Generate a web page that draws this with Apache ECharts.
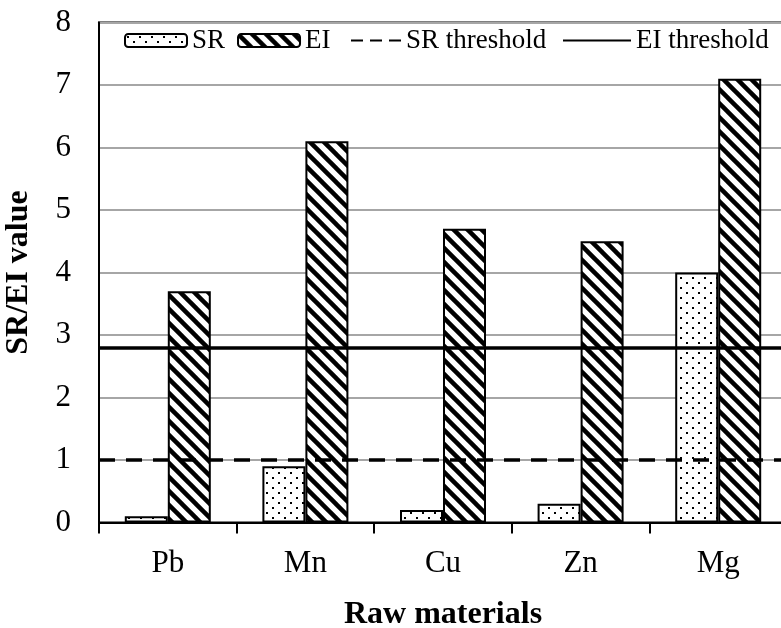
<!DOCTYPE html>
<html>
<head>
<meta charset="utf-8">
<script src="https://cdn.jsdelivr.net/npm/echarts@6/dist/echarts.min.js"></script>
<style>
html,body{margin:0;padding:0;background:#fff;}
#chart{width:781px;height:628px;}
</style>
</head>
<body>
<div id="chart"></div>
<script>
const categories = ['Pb', 'Mn', 'Cu', 'Zn', 'Mg'];
const srValues = [0.1, 0.9, 0.2, 0.3, 4.0];
const eiValues = [3.7, 6.1, 4.7, 4.5, 7.1];
const srThreshold = [1];
const eiThreshold = [2.8];
const yTicks = [0, 1, 2, 3, 4, 5, 6, 7, 8];

function hatchPattern() {
  const s = 14;
  const c = document.createElement('canvas');
  c.width = s; c.height = s;
  const g = c.getContext('2d');
  g.fillStyle = '#fff'; g.fillRect(0, 0, s, s);
  g.strokeStyle = '#000'; g.lineWidth = 4.5;
  for (let k = -1; k <= 1; k++) {
    g.beginPath();
    g.moveTo(k * s - 2, -2);
    g.lineTo(k * s + s + 2, s + 2);
    g.stroke();
  }
  return { image: c, repeat: 'repeat' };
}
function dotPattern() {
  const w = 12, h = 10;
  const c = document.createElement('canvas');
  c.width = w; c.height = h;
  const g = c.getContext('2d');
  g.fillStyle = '#fff'; g.fillRect(0, 0, w, h);
  g.fillStyle = '#000';
  g.fillRect(2, 2, 2, 2);
  g.fillRect(8, 7, 2, 2);
  return { image: c, repeat: 'repeat' };
}

const FONT = 'Liberation Serif';
const chart = echarts.init(document.getElementById('chart'), null, { renderer: 'canvas' });
const legendText = { fontFamily: FONT, fontSize: 27, color: '#000' };

chart.setOption({
  animation: false,
  backgroundColor: '#fff',
  grid: {
    left: 99, top: 22.5, width: 688, height: 500,
    outerBoundsMode: 'none', containLabel: false,
    show: true, borderColor: '#000', borderWidth: 2, backgroundColor: 'transparent'
  },
  legend: [
    { data: ['SR', 'EI'], left: 124, top: 27, itemWidth: 62, itemHeight: 13, itemGap: 12,
      textStyle: legendText, padding: 0 },
    { data: [{ name: 'SR threshold', itemStyle: { opacity: 0 } }], left: 350, top: 27,
      itemWidth: 50, itemHeight: 13, textStyle: legendText, padding: 0 },
    { data: [{ name: 'EI threshold', itemStyle: { opacity: 0 } }], left: 562, top: 27,
      itemWidth: 68, itemHeight: 13, textStyle: legendText, padding: 0 }
  ],
  xAxis: {
    type: 'category',
    data: categories,
    name: 'Raw materials',
    nameLocation: 'middle',
    nameGap: 76,
    nameTextStyle: { fontFamily: FONT, fontSize: 32, fontWeight: 'bold', color: '#000' },
    axisLine: { lineStyle: { color: '#000', width: 2 } },
    axisTick: { show: true, length: 11, lineStyle: { color: '#000', width: 2 } },
    axisLabel: { fontFamily: FONT, fontSize: 31, color: '#000', margin: 26 },
    splitLine: { show: false }
  },
  yAxis: {
    type: 'value',
    min: yTicks[0], max: yTicks[yTicks.length - 1], interval: 1,
    name: 'SR/EI value',
    nameLocation: 'middle',
    nameGap: 64,
    nameTextStyle: { fontFamily: FONT, fontSize: 32, fontWeight: 'bold', color: '#000' },
    axisLine: { show: true, lineStyle: { color: '#000', width: 2 } },
    axisTick: { show: false },
    axisLabel: { fontFamily: FONT, fontSize: 31, color: '#000', margin: 28 },
    splitLine: { show: true, lineStyle: { color: '#a6a6a6', width: 2 } }
  },
  series: [
    {
      name: 'SR', type: 'bar', data: srValues, barGap: '0%', barCategoryGap: '37.5%',
      itemStyle: { color: dotPattern(), borderColor: '#000', borderWidth: 2 }, z: 2
    },
    {
      name: 'EI', type: 'bar', data: eiValues, barGap: '0%', barCategoryGap: '37.5%',
      itemStyle: { color: hatchPattern(), borderColor: '#000', borderWidth: 2 }, z: 2
    },
    {
      name: 'SR threshold', type: 'line', data: [], symbol: 'none',
      lineStyle: { color: '#000', width: 3, type: [12, 7] },
      itemStyle: { color: '#000' },
      markLine: {
        silent: true, symbol: 'none', label: { show: false },
        lineStyle: { color: '#000', width: 3.5, type: [16, 11] },
        data: srThreshold.map(v => ({ yAxis: v }))
      }, z: 5
    },
    {
      name: 'EI threshold', type: 'line', data: [], symbol: 'none',
      lineStyle: { color: '#000', width: 3.5, type: 'solid' },
      itemStyle: { color: '#000' },
      markLine: {
        silent: true, symbol: 'none', label: { show: false },
        lineStyle: { color: '#000', width: 3.5, type: 'solid' },
        data: eiThreshold.map(v => ({ yAxis: v }))
      }, z: 5
    }
  ]
});
</script>
</body>
</html>
